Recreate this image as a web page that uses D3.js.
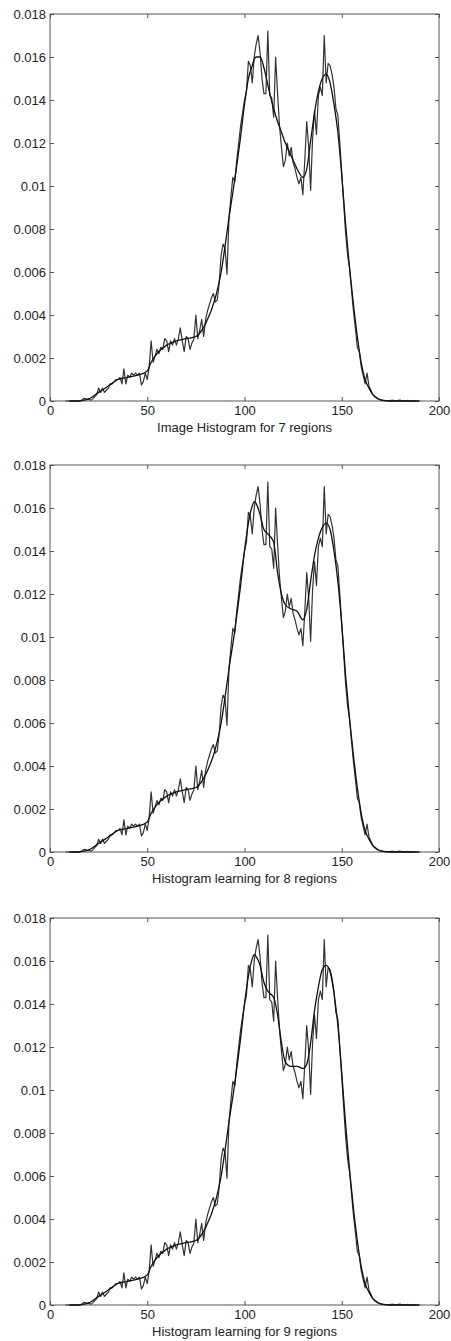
<!DOCTYPE html>
<html>
<head>
<meta charset="utf-8">
<script src="https://cdn.jsdelivr.net/npm/d3@7"></script>
<style>
  body { margin: 0; background: #fff; }
  svg { display: block; }
  text { font-family: "Liberation Sans", Arial, Helvetica, sans-serif; fill: #222; }
</style>
</head>
<body>
<div class="graph"></div>
<script>
// grey levels (x) of the image histogram
const histStart = 8;
// image histogram, one value per grey level from histStart
const histValues = [
  0, 0, 0, 0, 0, 0, 0, 0,
  0.00003, 0.0001, 0.00012, 0.00008, 0.0001, 0.00003, 0.0001, 0.0002, 0.0003, 0.0006,
  0.0004, 0.0006, 0.0004, 0.0005, 0.0006, 0.0008, 0.0008, 0.0009, 0.001, 0.001,
  0.0011, 0.0008, 0.0015, 0.0008, 0.0012, 0.0011, 0.0013, 0.0012, 0.0013, 0.0012,
  0.0013, 0.00075, 0.0009, 0.0013, 0.001, 0.0016, 0.0028, 0.0018, 0.0021, 0.0024,
  0.0022, 0.0025, 0.0024, 0.0029, 0.0028, 0.0023, 0.0028, 0.0026, 0.0029, 0.0026,
  0.0029, 0.0034, 0.0028, 0.0023, 0.003, 0.0029, 0.0024, 0.0027, 0.0029, 0.004,
  0.0029, 0.0033, 0.0038, 0.003, 0.0038, 0.0042, 0.0045, 0.0048, 0.005, 0.0046,
  0.0047, 0.0055, 0.0068, 0.0073, 0.0071, 0.0059, 0.0085, 0.0095, 0.0104, 0.0102,
  0.0112, 0.012, 0.0128, 0.0134, 0.014, 0.0144, 0.0158, 0.0156, 0.0148, 0.016,
  0.0166, 0.017, 0.0162, 0.015, 0.0143, 0.0143, 0.0172, 0.0142, 0.0141, 0.0132,
  0.016, 0.0143, 0.0128, 0.0118, 0.0109, 0.0112, 0.012, 0.0114, 0.0118, 0.0111,
  0.0108, 0.0104, 0.0101, 0.0104, 0.0096, 0.0112, 0.013, 0.0118, 0.0098, 0.0122,
  0.0135, 0.0124, 0.0142, 0.0146, 0.0142, 0.017, 0.0148, 0.0157, 0.0156, 0.0152,
  0.0146, 0.0136, 0.0133, 0.012, 0.0106, 0.0092, 0.0078, 0.0068, 0.0062, 0.0052,
  0.0042, 0.0034, 0.0025, 0.0023, 0.0016, 0.0012, 0.0008, 0.0013, 0.0007, 0.0005,
  0.0003, 0.0002, 0.00012, 0.00008, 0.00005, 0.00003, 0.00002, 0, 0, 0.00002,
  0.00004, 0, 0, 0.00003, 0.00004, 0, 0.00002, 0, 0.00003, 0, 0, 0, 0
];

// grey levels where the fitted mixtures were read
const fitX = [10, 15, 18, 20, 25, 30, 35, 40, 45, 50, 52, 55, 60, 65, 70, 75, 80, 85, 88, 90,
  92, 95, 98, 100, 102, 104, 105, 106, 108, 110, 112, 113, 115, 117, 119, 121, 124, 127, 130, 132,
  134, 136, 138, 140, 142, 144, 146, 148, 150, 152, 154, 156, 158, 160, 162, 164, 166, 168, 170, 175, 190];

const fit7 = [0, 0, 0.00005, 0.0001, 0.0004, 0.0007, 0.001, 0.0011, 0.0012, 0.0014, 0.0018, 0.0022, 0.0026, 0.0028, 0.0029, 0.003, 0.0036, 0.0048, 0.006, 0.0072,
  0.0085, 0.0103, 0.0123, 0.0138, 0.015, 0.0156, 0.0159, 0.016, 0.016, 0.0155, 0.0147, 0.0143, 0.0136, 0.013, 0.0125, 0.012, 0.0114, 0.0108, 0.0104, 0.0108,
  0.0121, 0.0134, 0.0144, 0.015, 0.0152, 0.0148, 0.0138, 0.0125, 0.0105, 0.0082, 0.0062, 0.0045, 0.003, 0.0018, 0.001, 0.0006, 0.0003, 0.00015, 0.00005, 0, 0];

const fit8 = [0, 0, 0.00005, 0.0001, 0.0004, 0.0007, 0.001, 0.0011, 0.0012, 0.0014, 0.0018, 0.0022, 0.0026, 0.0028, 0.0029, 0.003, 0.0036, 0.0048, 0.006, 0.0072,
  0.0085, 0.0103, 0.0124, 0.014, 0.0153, 0.0161, 0.0163, 0.0162, 0.0157, 0.015, 0.0148, 0.0147, 0.0144, 0.013, 0.012, 0.0115, 0.0113, 0.0112, 0.0108, 0.0113,
  0.0126, 0.0138, 0.0146, 0.0151, 0.0153, 0.015, 0.014, 0.0126, 0.0106, 0.0082, 0.0062, 0.0045, 0.003, 0.0018, 0.001, 0.0006, 0.0003, 0.00015, 0.00005, 0, 0];

const fit9 = [0, 0, 0.00005, 0.0001, 0.0004, 0.0007, 0.001, 0.0011, 0.0012, 0.0014, 0.0018, 0.0022, 0.0026, 0.0028, 0.0029, 0.003, 0.0036, 0.0048, 0.006, 0.0072,
  0.0085, 0.0103, 0.0124, 0.014, 0.0153, 0.0161, 0.0163, 0.0162, 0.0158, 0.015, 0.0146, 0.0145, 0.0143, 0.0135, 0.0122, 0.0113, 0.0111, 0.0111, 0.011, 0.0112,
  0.0122, 0.0137, 0.0148, 0.0156, 0.0158, 0.0155, 0.0145, 0.013, 0.0108, 0.0084, 0.0063, 0.0045, 0.003, 0.0018, 0.001, 0.0006, 0.0003, 0.00015, 0.00005, 0, 0];

const titles = ["Image Histogram for 7 regions", "Histogram learning for 8 regions", "Histogram learning for 9 regions"];
const fits = [fit7, fit8, fit9];
const xTicks = [0, 50, 100, 150, 200];
const yTicks = [0, 0.002, 0.004, 0.006, 0.008, 0.01, 0.012, 0.014, 0.016, 0.018];

const W = 451, H = 1341;
const panelTops = [14, 465, 918];
const plotH = 387;
const left = 50, right = 439;

const svg = d3.select(".graph").append("svg")
  .attr("width", W).attr("height", H);

const x = d3.scaleLinear().domain([0, 200]).range([left, right]);

const histData = histValues.map((v, i) => ({ x: histStart + i, y: v }));

const yFmt = d => d === 0 ? "0" : d3.format("")(+d.toFixed(3));

titles.forEach((title, k) => {
  const top = panelTops[k];
  const y = d3.scaleLinear().domain([0, 0.018]).range([top + plotH, top]);
  const g = svg.append("g");

  // box
  g.append("rect")
    .attr("x", left).attr("y", top)
    .attr("width", right - left).attr("height", plotH)
    .attr("fill", "none").attr("stroke", "#555").attr("stroke-width", 1);

  // left axis, inward ticks
  const ly = g.append("g").attr("transform", "translate(" + left + ",0)")
    .call(d3.axisLeft(y).tickValues(yTicks).tickFormat(yFmt).tickSizeInner(-4).tickSizeOuter(0).tickPadding(4));
  ly.select(".domain").remove();
  ly.selectAll("line").attr("stroke", "#555");
  ly.selectAll("text").attr("font-size", 13).attr("fill", "#222");

  // right ticks
  const ry = g.append("g").attr("transform", "translate(" + right + ",0)")
    .call(d3.axisRight(y).tickValues(yTicks).tickFormat("").tickSizeInner(-4).tickSizeOuter(0));
  ry.select(".domain").remove();
  ry.selectAll("line").attr("stroke", "#555");

  // bottom axis
  const bx = g.append("g").attr("transform", "translate(0," + (top + plotH) + ")")
    .call(d3.axisBottom(x).tickValues(xTicks).tickFormat(d3.format("d")).tickSizeInner(-4).tickSizeOuter(0).tickPadding(5));
  bx.select(".domain").remove();
  bx.selectAll("line").attr("stroke", "#555");
  bx.selectAll("text").attr("font-size", 13).attr("fill", "#222");

  // top ticks
  const tx = g.append("g").attr("transform", "translate(0," + top + ")")
    .call(d3.axisTop(x).tickValues(xTicks).tickFormat("").tickSizeInner(-4).tickSizeOuter(0));
  tx.select(".domain").remove();
  tx.selectAll("line").attr("stroke", "#555");

  // x label
  g.append("text")
    .attr("x", (left + right) / 2)
    .attr("y", top + plotH + 31)
    .attr("text-anchor", "middle")
    .attr("font-size", 13)
    .text(title);

  // noisy histogram
  g.append("path")
    .datum(histData)
    .attr("fill", "none")
    .attr("stroke", "#333")
    .attr("stroke-width", 1.2)
    .attr("stroke-linejoin", "round")
    .attr("d", d3.line().x(d => x(d.x)).y(d => y(d.y)));

  // fitted mixture
  const fitData = fitX.map((v, i) => ({ x: v, y: fits[k][i] }));
  g.append("path")
    .datum(fitData)
    .attr("fill", "none")
    .attr("stroke", "#111")
    .attr("stroke-width", 1.3)
    .attr("d", d3.line().curve(d3.curveMonotoneX).x(d => x(d.x)).y(d => y(d.y)));
});
</script>
</body>
</html>
